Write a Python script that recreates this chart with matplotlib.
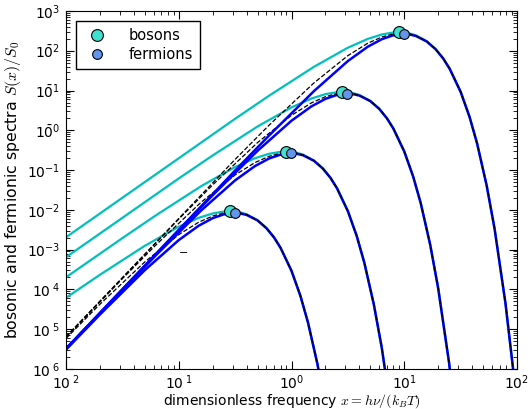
import matplotlib
matplotlib.use('Agg')
import matplotlib.pyplot as plt
from matplotlib.ticker import FixedLocator, LogLocator, NullFormatter

plt.rcParams['mathtext.fontset'] = 'cm'
plt.rcParams['font.size'] = 10.5
plt.rcParams['xtick.direction'] = 'in'
plt.rcParams['ytick.direction'] = 'in'
plt.rcParams['xtick.top'] = True
plt.rcParams['ytick.right'] = True

# spectra for the four temperatures (lowest to highest), sampled along x
x1 = [0.01, 0.02, 0.05, 0.1, 0.15, 0.2, 0.25, 0.3, 0.35, 0.4, 0.5, 0.6,
      0.7, 0.8, 1.0, 1.2, 1.4, 1.7, 2.0]
bose1 = [6.17e-5, 2.34e-4, 1.25e-3, 3.78e-3, 6.29e-3, 8.12e-3, 9.07e-3,
         9.18e-3, 8.66e-3, 7.75e-3, 5.50e-3, 3.48e-3, 2.03e-3, 1.11e-3,
         2.94e-4, 6.89e-5, 1.48e-5, 1.32e-6, 1.07e-7]
fermi1 = [3.08e-6, 2.34e-5, 3.06e-4, 1.74e-3, 3.99e-3, 6.19e-3, 7.69e-3,
          8.31e-3, 8.15e-3, 7.47e-3, 5.43e-3, 3.46e-3, 2.03e-3, 1.11e-3,
          2.94e-4, 6.89e-5, 1.48e-5, 1.32e-6, 1.07e-7]
boltz1 = [5.87e-6, 4.25e-5, 4.92e-4, 2.39e-3, 4.89e-3, 7.02e-3, 8.32e-3,
          8.72e-3, 8.40e-3, 7.60e-3, 5.46e-3, 3.47e-3, 2.03e-3, 1.11e-3,
          2.94e-4, 6.89e-5, 1.48e-5, 1.32e-6, 1.07e-7]

x2 = [0.01, 0.0316, 0.0632, 0.158, 0.316, 0.474, 0.632, 0.791, 0.949,
      1.107, 1.265, 1.581, 1.897, 2.214, 2.530, 3.162, 3.795, 4.427,
      5.376, 6.325, 7.906]
bose2 = [2.02e-4, 1.95e-3, 7.41e-3, 3.95e-2, 0.1194, 0.1988, 0.2569,
         0.2867, 0.2903, 0.2739, 0.2449, 0.1739, 0.1101, 0.0642, 0.0352,
         9.31e-3, 2.18e-3, 4.68e-4, 4.17e-5, 3.38e-6, 4.45e-8]
fermi2 = [3.19e-6, 9.75e-5, 7.39e-4, 9.68e-3, 0.0552, 0.1263, 0.1956,
          0.2431, 0.2627, 0.2578, 0.2361, 0.1716, 0.1095, 0.0641, 0.0352,
          9.31e-3, 2.18e-3, 4.68e-4, 4.17e-5, 3.38e-6, 4.45e-8]
boltz2 = [6.29e-6, 1.86e-4, 1.34e-3, 1.56e-2, 0.0755, 0.1545, 0.2221,
          0.2631, 0.2758, 0.2656, 0.2404, 0.1728, 0.1098, 0.0642, 0.0352,
          9.31e-3, 2.18e-3, 4.68e-4, 4.17e-5, 3.38e-6, 4.45e-8]

x3 = [0.01, 0.1, 0.2, 0.5, 1.0, 1.5, 2.0, 2.5, 3.0, 3.5, 4.0, 5.0, 6.0,
      7.0, 8.0, 10.0, 12.0, 14.0, 17.0, 20.0, 25.0, 30.0]
bose3 = [6.45e-4, 0.0617, 0.234, 1.250, 3.775, 6.287, 8.123, 9.065, 9.179,
         8.660, 7.745, 5.500, 3.481, 2.030, 1.115, 0.2945, 0.0689, 0.0148,
         1.32e-3, 1.07e-4, 1.41e-6, 1.64e-8]
fermi3 = [3.23e-6, 3.08e-3, 0.0234, 0.306, 1.745, 3.994, 6.185, 7.688,
          8.307, 8.153, 7.466, 5.426, 3.464, 2.027, 1.114, 0.2945, 0.0689,
          0.0148, 1.32e-3, 1.07e-4, 1.41e-6, 1.64e-8]
boltz3 = [6.42e-6, 5.87e-3, 0.0425, 0.492, 2.387, 4.885, 7.023, 8.320,
          8.720, 8.399, 7.603, 5.463, 3.473, 2.028, 1.115, 0.2945, 0.0689,
          0.0148, 1.32e-3, 1.07e-4, 1.41e-6, 1.64e-8]

x4 = [0.01, 0.316, 0.632, 1.581, 3.162, 4.743, 6.325, 7.906, 9.487, 11.07,
      12.65, 15.81, 18.97, 22.14, 25.30, 31.62, 37.95, 44.27, 53.76, 63.25,
      79.06, 94.87]
bose4 = [2.05e-3, 1.950, 7.41, 39.5, 119.4, 198.8, 256.9, 286.7, 290.3,
         273.9, 244.9, 173.9, 110.1, 64.2, 35.2, 9.31, 2.18, 0.468, 0.0417,
         3.38e-3, 4.45e-5, 5.18e-7]
fermi4 = [3.24e-6, 0.0975, 0.739, 9.68, 55.2, 126.3, 195.6, 243.1, 262.7,
          257.8, 236.1, 171.6, 109.5, 64.1, 35.2, 9.31, 2.18, 0.468, 0.0417,
          3.38e-3, 4.45e-5, 5.18e-7]
boltz4 = [6.47e-6, 0.1856, 1.344, 15.55, 75.5, 154.5, 222.1, 263.1, 275.8,
          265.6, 240.4, 172.8, 109.8, 64.2, 35.2, 9.31, 2.18, 0.468, 0.0417,
          3.38e-3, 4.45e-5, 5.18e-7]

# spectral maxima
peak_x_bose = [0.2821, 0.8921, 2.821, 8.921]
peak_y_bose = [9.22e-3, 0.2915, 9.22, 291.5]
peak_x_fermi = [0.3131, 0.9901, 3.131, 9.901]
peak_y_fermi = [8.33e-3, 0.2634, 8.33, 263.4]

xtick_vals = [1e-2, 1e-1, 1e0, 1e1, 1e2]
xtick_text = [r'$\mathregular{10^{\ 2}}$', r'$\mathregular{10^{\ 1}}$',
              r'$\mathregular{10^{0}}$', r'$\mathregular{10^{1}}$',
              r'$\mathregular{10^{2}}$']
ytick_vals = [1e-6, 1e-5, 1e-4, 1e-3, 1e-2, 1e-1, 1e0, 1e1, 1e2, 1e3]
ytick_text = [r'$\mathregular{10^{\ 6}}$', r'$\mathregular{10^{\ 5}}$',
              r'$\mathregular{10^{\ 4}}$', r'$\mathregular{10^{-3}}$',
              r'$\mathregular{10^{-2}}$', r'$\mathregular{10^{-1}}$',
              r'$\mathregular{1\bar{0}^{0}}$', r'$\mathregular{1\bar{0}^{1}}$',
              r'$\mathregular{1\bar{0}^{2}}$', r'$\mathregular{10^{3}}$']

fig = plt.figure(figsize=(5.32, 4.09), dpi=100)
ax = fig.add_axes([66 / 532, 40 / 409, 451 / 532, 358 / 409])

for xs, b, f, w in [(x1, bose1, fermi1, boltz1), (x2, bose2, fermi2, boltz2),
                    (x3, bose3, fermi3, boltz3), (x4, bose4, fermi4, boltz4)]:
    ax.plot(xs, b, color='c', lw=1.6)
    ax.plot(xs, f, color='b', lw=1.8)
    ax.plot(xs, w, 'k--', lw=0.9)

ax.plot(peak_x_bose, peak_y_bose, 'o', color='#40e0d0', mec='k', mew=0.8,
        ms=8.5, label='bosons', zorder=5)
ax.plot(peak_x_fermi, peak_y_fermi, 'o', color='#6495ed', mec='k', mew=0.8,
        ms=7, label='fermions', zorder=5)

ax.set_xscale('log')
ax.set_yscale('log')
ax.set_xlim(1e-2, 1e2)
ax.set_ylim(1e-6, 1e3)
ax.xaxis.set_major_locator(FixedLocator(xtick_vals))
ax.set_xticklabels(xtick_text)
ax.yaxis.set_major_locator(FixedLocator(ytick_vals))
ax.set_yticklabels(ytick_text)
ax.xaxis.set_minor_locator(LogLocator(base=10, subs=range(2, 10), numticks=20))
ax.yaxis.set_minor_locator(LogLocator(base=10, subs=range(2, 10), numticks=20))
ax.xaxis.set_minor_formatter(NullFormatter())
ax.yaxis.set_minor_formatter(NullFormatter())
ax.tick_params(which='major', length=6, width=0.8, labelsize=10)
ax.tick_params(axis='x', which='major', pad=3)
ax.tick_params(axis='y', which='major', pad=4)
ax.tick_params(which='minor', length=3, width=0.6)

ax.set_xlabel(r'dimensionless frequency $x = h\nu/(k_B T)$', fontsize=10)
ax.xaxis.set_label_coords(0.5, -0.064)
ax.set_ylabel(r'bosonic and fermionic spectra $S(x)/S_0$', fontsize=11.3,
              labelpad=3)

ax.legend(loc='upper left', numpoints=1, fancybox=False, edgecolor='k',
          framealpha=1, borderpad=0.45, handletextpad=1.2, labelspacing=0.3,
          bbox_to_anchor=(0.005, 0.992))

fig.text(183.5 / 532, 1 - 253 / 409, '\u2212', fontsize=8, ha='center', va='center')

fig.savefig('out.png', dpi=100)
